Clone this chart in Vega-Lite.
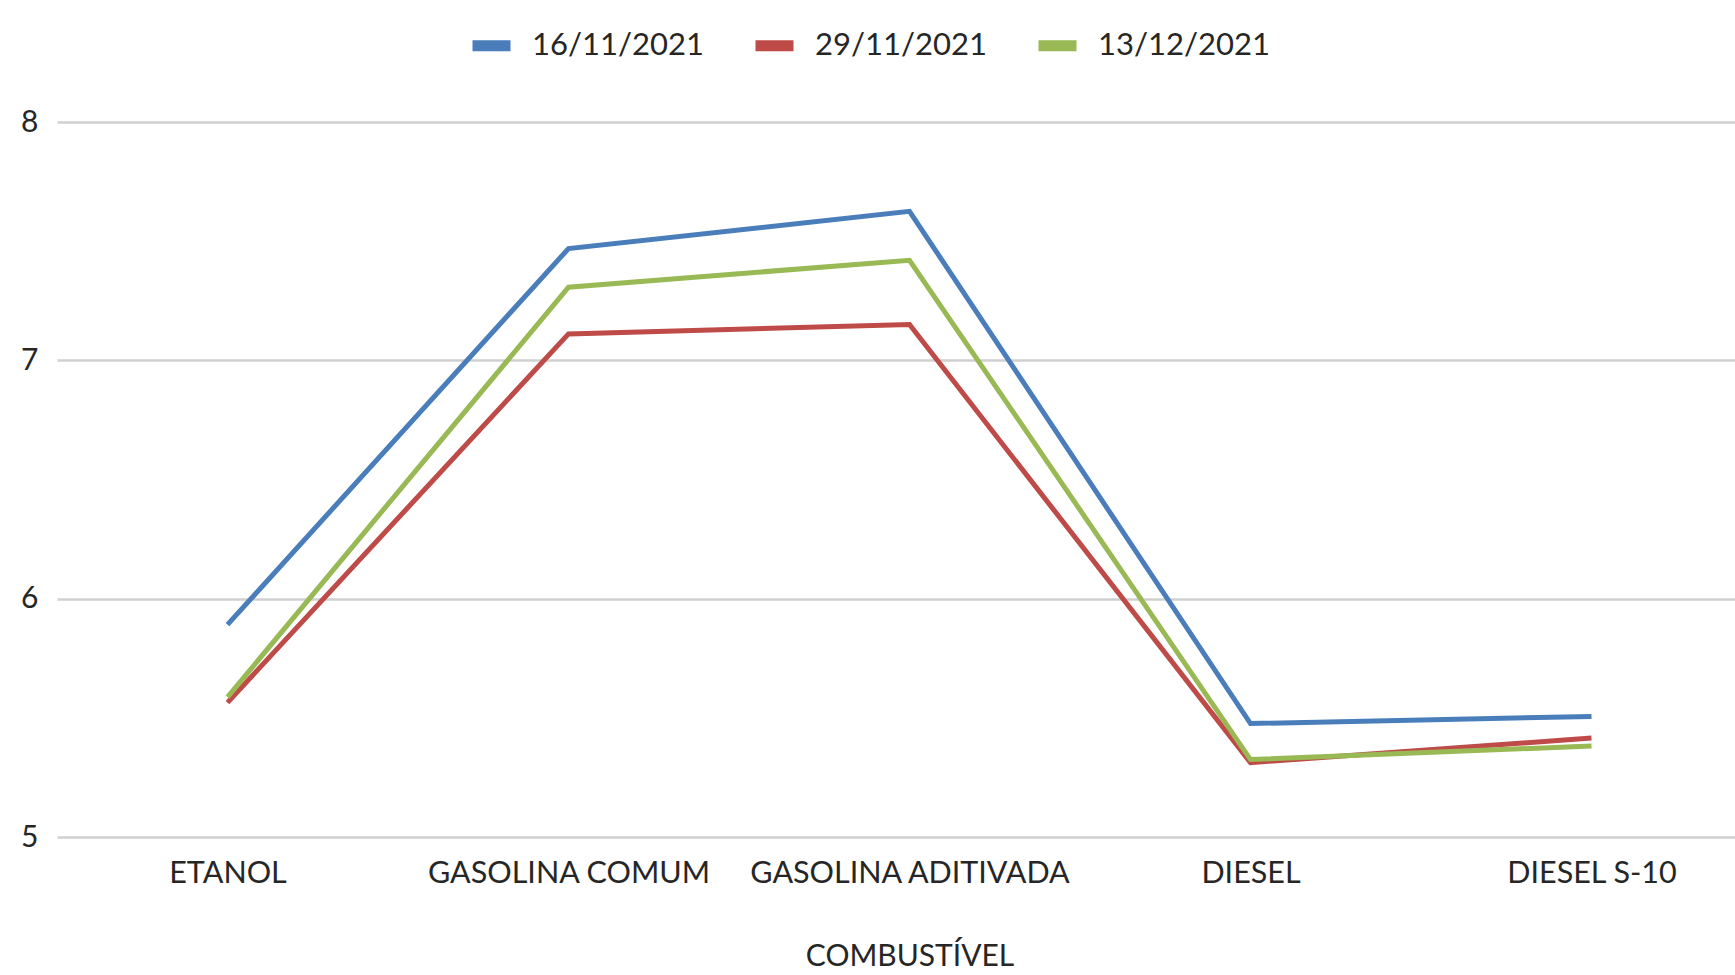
{
  "$schema": "https://vega.github.io/schema/vega-lite/v6.json",
  "autosize": {"type": "none"},
  "padding": {"left": 57, "top": 122, "right": -27, "bottom": 138},
  "width": 1705,
  "height": 715,
  "background": "white",
  "config": {
    "view": {"stroke": null},
    "font": "Lato",
    "axis": {"labelFont": "Lato", "titleFont": "Lato", "labelColor": "#262626", "titleColor": "#262626"}
  },
  "data": {
    "values": [
      {"fuel": "ETANOL", "date": "16/11/2021", "price": 5.891},
      {"fuel": "GASOLINA COMUM", "date": "16/11/2021", "price": 7.469},
      {"fuel": "GASOLINA ADITIVADA", "date": "16/11/2021", "price": 7.625},
      {"fuel": "DIESEL", "date": "16/11/2021", "price": 5.476},
      {"fuel": "DIESEL S-10", "date": "16/11/2021", "price": 5.506},
      {"fuel": "ETANOL", "date": "29/11/2021", "price": 5.564},
      {"fuel": "GASOLINA COMUM", "date": "29/11/2021", "price": 7.111},
      {"fuel": "GASOLINA ADITIVADA", "date": "29/11/2021", "price": 7.150},
      {"fuel": "DIESEL", "date": "29/11/2021", "price": 5.312},
      {"fuel": "DIESEL S-10", "date": "29/11/2021", "price": 5.415},
      {"fuel": "ETANOL", "date": "13/12/2021", "price": 5.587},
      {"fuel": "GASOLINA COMUM", "date": "13/12/2021", "price": 7.307},
      {"fuel": "GASOLINA ADITIVADA", "date": "13/12/2021", "price": 7.420},
      {"fuel": "DIESEL", "date": "13/12/2021", "price": 5.325},
      {"fuel": "DIESEL S-10", "date": "13/12/2021", "price": 5.382}
    ]
  },
  "mark": {"type": "line", "strokeWidth": 5, "strokeJoin": "miter", "clip": false},
  "encoding": {
    "x": {
      "field": "fuel",
      "type": "nominal",
      "sort": ["ETANOL", "GASOLINA COMUM", "GASOLINA ADITIVADA", "DIESEL", "DIESEL S-10"],
      "scale": {"type": "point", "padding": 0.5},
      "axis": {
        "title": "COMBUSTÍVEL",
        "titleFontSize": 30,
        "titleFontWeight": "normal",
        "titlePadding": 53,
        "labelFontSize": 30.5,
        "labelAngle": 0,
        "labelPadding": 21,
        "labelLimit": 0,
        "ticks": false,
        "domain": false,
        "grid": false
      }
    },
    "y": {
      "field": "price",
      "type": "quantitative",
      "scale": {"domain": [5, 8], "nice": false, "zero": false},
      "axis": {
        "title": null,
        "values": [5, 6, 7, 8],
        "labelFontSize": 30,
        "labelPadding": 19,
        "ticks": false,
        "domain": false,
        "grid": true,
        "gridColor": "#d0d0d0",
        "gridWidth": 2.5
      }
    },
    "color": {
      "field": "date",
      "type": "nominal",
      "sort": ["16/11/2021", "29/11/2021", "13/12/2021"],
      "scale": {"domain": ["16/11/2021", "29/11/2021", "13/12/2021"], "range": ["#4A7EBB", "#BE4B48", "#98B954"]},
      "legend": {
        "title": null,
        "orient": "none",
        "direction": "horizontal",
        "legendX": 410,
        "legendY": -101,
        "labelFontSize": 31,
        "labelLimit": 0,
        "labelColor": "#262626",
        "symbolType": "M-1,0H1",
        "symbolSize": 1444,
        "symbolStrokeWidth": 11,
        "labelOffset": 16,
        "columnPadding": 29
      }
    }
  }
}
